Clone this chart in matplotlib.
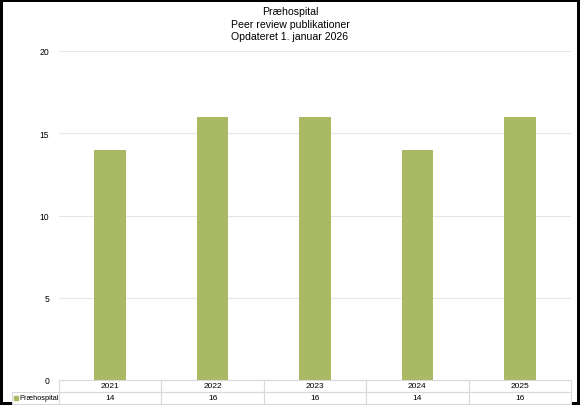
import matplotlib
matplotlib.use('Agg')
import matplotlib.pyplot as plt
from matplotlib.patches import Rectangle
from matplotlib.table import Table

years = ['2021', '2022', '2023', '2024', '2025']
publications = [14, 16, 16, 14, 16]
series_name = 'Præhospital'
title_lines = ['Præhospital', 'Peer review publikationer', 'Opdateret 1. januar 2026']

bar_color = '#AAB964'
grid_color = '#E6E6E6'
plt.rcParams['font.family'] = ['Liberation Sans', 'DejaVu Sans']

W, H = 580, 406
fig = plt.figure(figsize=(W / 100, H / 100), dpi=100)
fig.patch.set_facecolor('white')
fig.patch.set_edgecolor('black')
fig.patch.set_linewidth(3)

left, right, top, bottom = 59, 571, 52, 381
ax = fig.add_axes([left / W, 1 - bottom / H, (right - left) / W, (bottom - top) / H])

x = range(len(years))
ax.bar(x, publications, width=0.31, color=bar_color, zorder=3)
ax.set_xlim(-0.5, len(years) - 0.5)
ax.set_ylim(0, 20)
ax.set_yticks([0, 5, 10, 15, 20])
ax.tick_params(axis='y', labelsize=6.2, length=0, pad=7)
ax.set_xticks([])
ax.grid(axis='y', color=grid_color, linewidth=0.8, zorder=0)
for s in ax.spines.values():
    s.set_visible(False)

# title
for i, line in enumerate(title_lines):
    fig.text(0.5, 1 - (12 + 12.5 * i) / H, line, ha='center', va='center', fontsize=7.6)

# data table below the axes, built cell by cell
# (bbox covers the data grid only; the row-label column hangs off to the left)
tbl_h = 24 / (bottom - top)
ncol = len(years)
col_w = 1 / ncol
row_w = (left - 12) / (right - left)
tbl = Table(ax, bbox=[0, -tbl_h, 1, tbl_h])
for j, yr in enumerate(years):
    tbl.add_cell(0, j, col_w, 0.5, text=yr, loc='center')
    tbl.add_cell(1, j, col_w, 0.5, text=str(publications[j]), loc='center')
tbl.add_cell(1, -1, row_w, 0.5, text='', loc='left')
tbl.auto_set_font_size(False)
tbl.set_fontsize(6)
for cell in tbl.get_celld().values():
    cell.set_edgecolor('#D9D9D9')
    cell.set_linewidth(0.8)
ax.add_table(tbl)

# legend key + series name in the row-label cell
y_mid = 1 - 399 / H
fig.patches.append(Rectangle((14 / W, y_mid - 2 / H), 4 / W, 4 / H,
                             transform=fig.transFigure, color=bar_color))
fig.text(19 / W, y_mid, series_name, ha='left', va='center', fontsize=5.3)

fig.savefig('out.png', dpi=100)
